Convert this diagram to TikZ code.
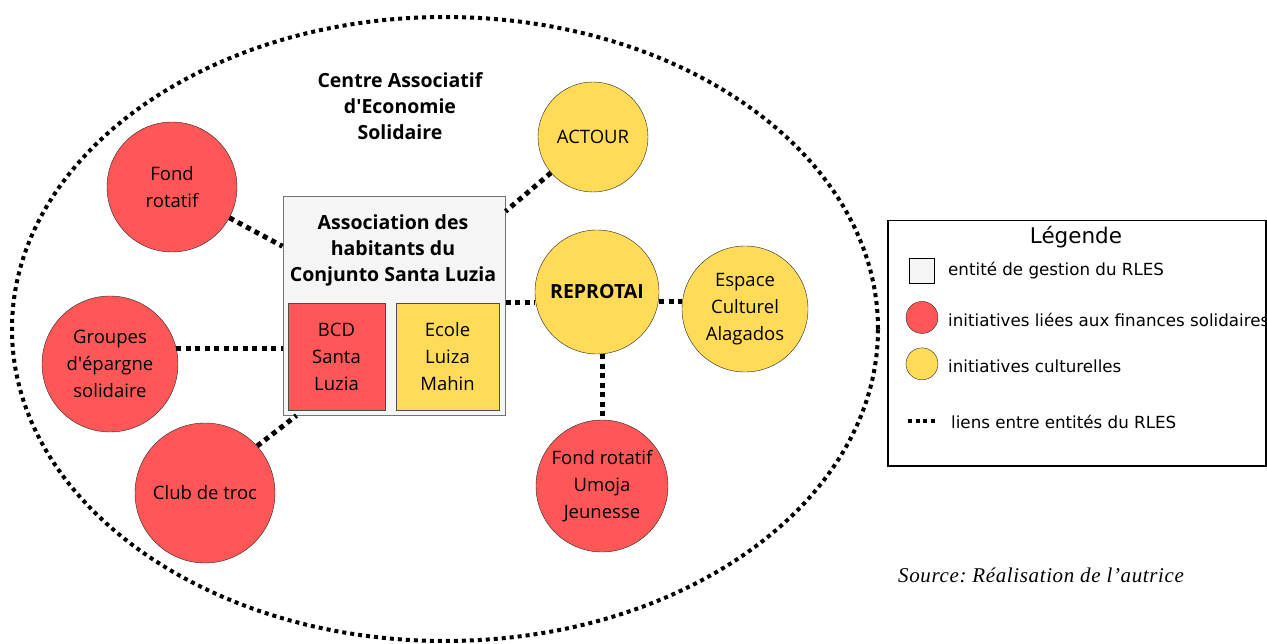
\documentclass[tikz,border=0pt]{standalone}
\usepackage{fontspec}
\setmainfont{Open Sans}
\newfontfamily\legendfont{DejaVu Sans}
\newfontfamily\sourcefont[LetterSpace=3]{Liberation Serif}
\usetikzlibrary{positioning,shapes.geometric}

\definecolor{finred}{RGB}{255,87,87}
\definecolor{cultyellow}{RGB}{255,219,88}
\definecolor{mgmtgray}{RGB}{245,245,245}

\begin{document}
\begin{tikzpicture}[
        x=1pt, y=-1pt,
        every node/.style={font=\fontsize{18.5}{27}\selectfont, align=center, inner sep=0pt},
        boldtext/.style={font=\bfseries\fontsize{19.5}{26}\selectfont},
        finance/.style={circle, draw=black!85, fill=finred, minimum size=#1},
        culture/.style={circle, draw=black!85, fill=cultyellow, minimum size=#1},
        subbox/.style={rectangle, draw=black!70, minimum height=107pt},
        link/.style={draw, line width=5pt, dash pattern=on 5pt off 4.5pt},
        legtext/.style={anchor=west, font=\legendfont\fontsize{16.7}{20}\selectfont}
    ]
        \useasboundingbox (0,0) rectangle (1267,644);

        % outer ellipse
        \node [ellipse, draw, line width=4pt, dash pattern=on 4pt off 4pt, minimum width=866pt, minimum height=624pt] (centre) at (445,329) {};
        \node [boldtext] (centretitle) at (400,106) {Centre Associatif\\d\textquotesingle Economie\\Solidaire};

        % management entity
        \node [rectangle, draw=black!55, line width=1pt, fill=mgmtgray, minimum width=222pt, minimum height=218pt] (assoc) at (394,306) {};
        \node [boldtext] (assoctitle) at (393,250) {Association des\\habitants du\\Conjunto Santa Luzia};
        \node [subbox, fill=finred, minimum width=97pt] (bcd) at (336.5,356.5) {BCD\\Santa\\Luzia};
        \node [subbox, fill=cultyellow, minimum width=103pt] (ecole) at (447.5,356.5) {Ecole\\Luiza\\Mahin};

        % initiatives
        \node [finance=130pt] (fondrot) at (172,187) {Fond\\rotatif};
        \node [finance=136pt] (groupes) at (110,364) {Groupes\\d\textquotesingle épargne\\solidaire};
        \node [finance=140pt] (club) at (205,493) {Club de troc};
        \node [culture=110pt] (actour) at (593,137) {ACTOUR};
        \node [culture=124pt, boldtext] (reprotai) at (597,292) {REPROTAI};
        \node [culture=126pt] (espace) at (745,309) {Espace\\Culturel\\Alagados};
        \node [finance=132pt] (umoja) at (602,486) {Fond rotatif\\Umoja\\Jeunesse};

        % links
        \path [link] (fondrot) -- (assoc);
        \path [link] (groupes.13) -- (groupes.13 -| assoc.west);
        \path [link] (club.42) -- ([xshift=14pt]assoc.south west);
        \path [link] (actour) -- (assoc);
        \path [link] (assoc.east |- 0,303) -- (reprotai.west |- 0,303);
        \path [link] (reprotai.east |- 0,302) -- (espace.west |- 0,302);
        \path [link] (reprotai.south -| umoja.north) -- (umoja.north);

        % legend
        \node [rectangle, draw, line width=1.5pt, minimum width=378pt, minimum height=245pt, anchor=north west] (legend) at (887,220) {};
        \node [font=\legendfont\fontsize{21.5}{24}\selectfont] (legtitle) at (1076,237) {Légende};
        \node [rectangle, draw, line width=1.5pt, fill=mgmtgray, minimum size=25pt] (legmgmt) at (922,271) {};
        \node [finance=32pt, below=17pt of legmgmt] (legfin) {};
        \node [culture=32pt, below=14pt of legfin] (legcult) {};
        \coordinate [below=41pt of legcult] (leglink);
        \path [draw, line width=4pt, dash pattern=on 4pt off 3.5pt] ([xshift=-14pt]leglink) -- ([xshift=14pt]leglink);
        \node [legtext] at (948,271) {entité de gestion du RLES};
        \node [legtext] at (948,320) {initiatives liées aux finances solidaires};
        \node [legtext] at (948,366) {initiatives culturelles};
        \node [legtext] at (951,422) {liens entre entités du RLES};

        \node [anchor=west, font=\sourcefont\itshape\frenchspacing\fontsize{21}{24}\selectfont] (source) at (898,575) {Source: Réalisation de l’autrice};
    \end{tikzpicture}
\end{document}
